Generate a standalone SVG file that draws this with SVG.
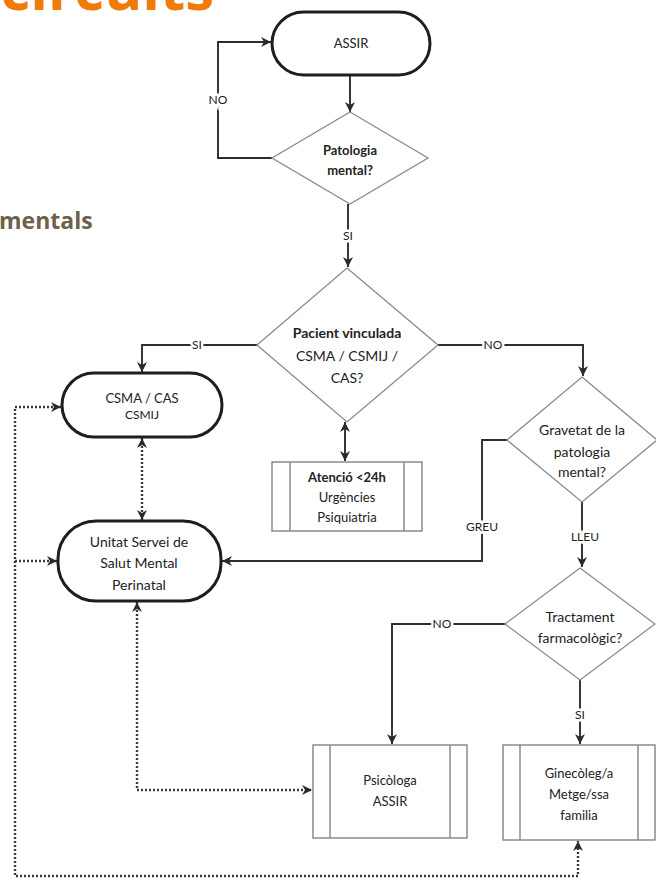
<svg xmlns="http://www.w3.org/2000/svg" width="656" height="891" viewBox="0 0 656 891">
<style>
text{font-family:Lato,"Open Sans","DejaVu Sans",sans-serif;fill:#222;text-anchor:middle}
.term{fill:#fff;stroke:#1e1e1e;stroke-width:3}
.dec{fill:#fff;stroke:#8a8a8a;stroke-width:1.3}
.proc{fill:#fff;stroke:#7a7a7a;stroke-width:1.3}
.line{fill:none;stroke:#2e2e2e;stroke-width:1.9}
.dot{fill:none;stroke:#3a3a3a;stroke-width:2.4;stroke-dasharray:2 2}
.lbl{font-size:12px;stroke:#fff;stroke-width:5;paint-order:stroke;fill:#222}
.b{font-weight:bold}
</style>
<defs>
<marker id="ah" viewBox="0 0 10 10" refX="10" refY="5" markerWidth="10" markerHeight="10" markerUnits="userSpaceOnUse" orient="auto-start-reverse">
<path d="M0,0 L10,5 L0,10 L3,5 z" fill="#2a2a2a"/>
</marker>
</defs>
<text x="214" y="10" style="text-anchor:end;font-family:'Open Sans',sans-serif;font-size:58px;font-weight:bold;fill:#f07a0a">circuits</text>
<text x="-1" y="229" style="text-anchor:start;font-family:'Open Sans',sans-serif;font-size:23px;font-weight:bold;fill:#6e6149">mentals</text>
<g id="connectors">
<path class="line" d="M350,75 V112" marker-end="url(#ah)"/>
<path class="line" d="M272,158 H218 V42 H271" marker-end="url(#ah)"/>
<path class="line" d="M348,204 V267" marker-end="url(#ah)"/>
<path class="line" d="M257,345 H142 V372" marker-end="url(#ah)"/>
<path class="line" d="M438,345 H583 V376" marker-end="url(#ah)"/>
<path class="line" d="M345,422 V461" marker-start="url(#ah)" marker-end="url(#ah)"/>
<path class="line" d="M507,440 H482 V561 H222" marker-end="url(#ah)"/>
<path class="line" d="M582,502 V567" marker-end="url(#ah)"/>
<path class="line" d="M505,624 H392 V744" marker-end="url(#ah)"/>
<path class="line" d="M580,680 V744" marker-end="url(#ah)"/>
<path class="dot" d="M142,438 V520" marker-start="url(#ah)" marker-end="url(#ah)"/>
<path class="dot" d="M137,602 V790 H312" marker-start="url(#ah)" marker-end="url(#ah)"/>
<path class="dot" d="M61,407 H15 V876 H578 V841" marker-start="url(#ah)" marker-end="url(#ah)"/>
<path class="dot" d="M15,561 H57" marker-end="url(#ah)"/>
<text class="lbl" x="218" y="104">NO</text>
<text class="lbl" x="348" y="240">SI</text>
<text class="lbl" x="197" y="349">SI</text>
<text class="lbl" x="493" y="349">NO</text>
<text class="lbl" x="482" y="531">GREU</text>
<text class="lbl" x="585" y="541">LLEU</text>
<text class="lbl" x="442" y="628">NO</text>
<text class="lbl" x="580" y="719">SI</text>
</g>
<g id="assir">
<rect class="term" x="272" y="12" width="158" height="63" rx="31.5"/>
<text x="351" y="48" style="font-size:13px">ASSIR</text>
</g>
<g id="patologia">
<polygon class="dec" points="350,112 428,158 350,204 272,158"/>
<text class="b" x="350" y="155" style="font-size:13px">Patologia</text>
<text class="b" x="350" y="175" style="font-size:13px">mental?</text>
</g>
<g id="vinculada">
<polygon class="dec" points="347,268 438,345 347,422 257,345"/>
<text class="b" x="347" y="338" style="font-size:14px">Pacient vinculada</text>
<text x="347" y="361" style="font-size:14px">CSMA / CSMIJ /</text>
<text x="347" y="383" style="font-size:14px">CAS?</text>
</g>
<g id="csma">
<rect class="term" x="62" y="373" width="160" height="64" rx="32"/>
<text x="142" y="403" style="font-size:13px">CSMA / CAS</text>
<text x="142" y="419" style="font-size:12px">CSMIJ</text>
</g>
<g id="atencio">
<rect class="proc" x="272" y="462" width="150" height="69"/>
<path class="proc" d="M290,462 V531 M404,462 V531"/>
<text class="b" x="347" y="482" style="font-size:13px">Atenció &lt;24h</text>
<text x="347" y="502" style="font-size:13px">Urgències</text>
<text x="347" y="522" style="font-size:13px">Psiquiatria</text>
</g>
<g id="unitat">
<rect class="term" x="58" y="521" width="163" height="80" rx="38"/>
<text x="139" y="547" style="font-size:14px">Unitat Servei de</text>
<text x="139" y="568" style="font-size:14px">Salut Mental</text>
<text x="139" y="590" style="font-size:14px">Perinatal</text>
</g>
<g id="gravetat">
<polygon class="dec" points="582,377 657,440 582,502 507,440"/>
<text x="582" y="435" style="font-size:14px">Gravetat de la</text>
<text x="582" y="457" style="font-size:14px">patologia</text>
<text x="582" y="477" style="font-size:14px">mental?</text>
</g>
<g id="tractament">
<polygon class="dec" points="580,568 655,624 580,680 505,624"/>
<text x="580" y="622" style="font-size:14px">Tractament</text>
<text x="580" y="643" style="font-size:14px">farmacològic?</text>
</g>
<g id="psicologa">
<rect class="proc" x="313" y="745" width="154" height="93"/>
<path class="proc" d="M330,745 V838 M450,745 V838"/>
<text x="390" y="785" style="font-size:13px">Psicòloga</text>
<text x="390" y="806" style="font-size:13px">ASSIR</text>
</g>
<g id="ginecoleg">
<rect class="proc" x="503" y="745" width="152" height="95"/>
<path class="proc" d="M520,745 V840 M638,745 V840"/>
<text x="579" y="778" style="font-size:13px">Ginecòleg/a</text>
<text x="579" y="799" style="font-size:13px">Metge/ssa</text>
<text x="579" y="820" style="font-size:13px">familia</text>
</g>
</svg>
